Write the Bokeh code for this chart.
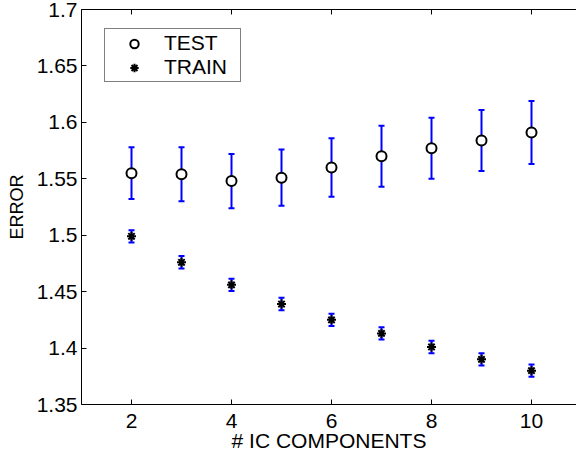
from bokeh.plotting import figure
from bokeh.models import (ColumnDataSource, Whisker, TeeHead, LinearAxis, FixedTicker,
                          Legend, LegendItem, Range1d, CustomLabelingPolicy)
from bokeh.embed import file_html
from bokeh.resources import INLINE

# ---- data ----
n_components = [2, 3, 4, 5, 6, 7, 8, 9, 10]
test_mean = [1.555, 1.554, 1.548, 1.551, 1.560, 1.570, 1.577, 1.584, 1.591]
test_err = [0.023, 0.024, 0.024, 0.025, 0.026, 0.027, 0.027, 0.027, 0.028]
train_mean = [1.499, 1.476, 1.456, 1.439, 1.425, 1.413, 1.401, 1.390, 1.380]
train_err = [0.0055, 0.0055, 0.0055, 0.0055, 0.0055, 0.0055, 0.0055, 0.0055, 0.0055]

x_ticks = [2, 4, 6, 8, 10]
y_ticks = [1.35, 1.4, 1.45, 1.5, 1.55, 1.6, 1.65, 1.7]
y_tick_labels = ["1.35", "1.4", "1.45", "1.5", "1.55", "1.6", "1.65", "1.7"]

FONT = "Liberation Sans"

test_src = ColumnDataSource(dict(
    x=n_components, y=test_mean,
    lo=[m - e for m, e in zip(test_mean, test_err)],
    hi=[m + e for m, e in zip(test_mean, test_err)],
))
train_src = ColumnDataSource(dict(
    x=n_components, y=train_mean,
    lo=[m - e for m, e in zip(train_mean, train_err)],
    hi=[m + e for m, e in zip(train_mean, train_err)],
))

p = figure(width=576, height=454, output_backend="svg", toolbar_location=None,
           x_range=Range1d(1, 10.9), y_range=Range1d(1.35, 1.7),
           x_axis_location=None, y_axis_location=None,
           min_border_left=81, min_border_top=9, min_border_bottom=49, min_border_right=0,
           margin=(0, 0, 0, 0))
p.outline_line_color = None
p.xgrid.visible = False
p.ygrid.visible = False
p.background_fill_color = "white"
p.border_fill_color = "white"


def style_axis(ax):
    ax.axis_line_color = "black"
    ax.axis_line_width = 1
    ax.major_tick_in = 5
    ax.major_tick_out = 0
    ax.major_tick_line_color = "black"
    ax.minor_tick_line_color = None
    ax.major_label_text_font = FONT
    ax.major_label_text_color = "black"
    ax.axis_label_text_font = FONT
    ax.axis_label_text_font_style = "normal"
    ax.axis_label_text_color = "black"


yax = LinearAxis(ticker=FixedTicker(ticks=y_ticks),
                 major_label_overrides={t: s for t, s in zip(y_ticks, y_tick_labels)},
                 axis_label="ERROR")
style_axis(yax)
yax.major_label_text_font_size = "21px"
yax.axis_label_text_font_size = "18px"
yax.major_label_standoff = 4
yax.axis_label_standoff = 7
p.add_layout(yax, "left")

xax = LinearAxis(ticker=FixedTicker(ticks=x_ticks), axis_label="# IC COMPONENTS")
style_axis(xax)
xax.major_label_text_font_size = "21px"
xax.axis_label_text_font_size = "21px"
xax.major_label_standoff = 9
xax.axis_label_standoff = -2
p.add_layout(xax, "below")

# top border with inward ticks, no labels
tax = LinearAxis(ticker=FixedTicker(ticks=x_ticks),
                 major_label_policy=CustomLabelingPolicy(
                     code="for (const i of indices) { indices.unset(i) } return indices"))
style_axis(tax)
tax.major_label_text_font_size = "1px"
tax.major_label_standoff = 0
p.add_layout(tax, "above")

# error bars
for src in (test_src, train_src):
    w = Whisker(source=src, base="x", lower="lo", upper="hi",
                line_color="#0000ff", line_width=2,
                upper_head=TeeHead(size=6, line_color="#0000ff", line_width=2),
                lower_head=TeeHead(size=6, line_color="#0000ff", line_width=2))
    p.add_layout(w)

r_test = p.scatter("x", "y", source=test_src, marker="circle", size=10,
                   line_color="black", line_width=2, fill_color="white")
r_train = p.scatter("x", "y", source=train_src, marker="asterisk", size=9,
                    line_color="black", line_width=2)

legend = Legend(items=[LegendItem(label="TEST", renderers=[r_test]),
                       LegendItem(label="TRAIN", renderers=[r_train])],
                location=(23, 322), orientation="vertical",
                border_line_color="black", border_line_width=1,
                background_fill_color="white", background_fill_alpha=1,
                label_text_font=FONT, label_text_font_size="21px",
                label_text_color="black",
                padding=2, spacing=0, margin=0,
                glyph_width=54, glyph_height=21, label_height=21,
                label_standoff=3, label_width=74)
p.add_layout(legend)

open("out.html", "w").write(file_html(p, INLINE))
